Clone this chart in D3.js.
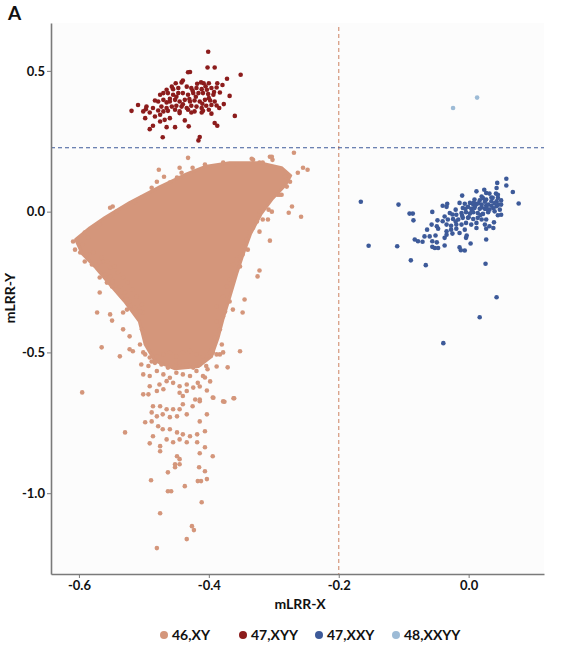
<!DOCTYPE html>
<html>
<head>
<meta charset="utf-8">
<script src="https://cdn.jsdelivr.net/npm/d3@7"></script>
<style>
  body { margin: 0; background: #fff; }
  svg { display: block; font-family: Lato, "Open Sans", sans-serif; }
</style>
</head>
<body>
<svg id="chart"></svg>
<script>
// group names and colours
const groups = ["46,XY", "47,XYY", "47,XXY", "48,XXYY"];
const groupColors = ["#d4967b", "#8c1c1c", "#3d5a99", "#9dbbd6"];

const xTicks = [-0.6, -0.4, -0.2, 0.0];
const yTicks = [0.5, 0.0, -0.5, -1.0];

// cut-off lines
const cutX = -0.2;
const cutY = 0.227;

// 46,XY : outline of the solid (overplotted) core, then the visible single points
const xyCore = [
  [-0.605,-0.099],[-0.583,-0.057],[-0.560,-0.021],[-0.522,0.032],[-0.475,0.089],[-0.437,0.131],
  [-0.406,0.160],[-0.368,0.174],[-0.322,0.174],[-0.288,0.156],[-0.274,0.128],[-0.282,0.095],
  [-0.302,0.046],[-0.320,-0.010],[-0.336,-0.080],[-0.347,-0.150],[-0.357,-0.220],[-0.368,-0.305],
  [-0.378,-0.380],[-0.386,-0.450],[-0.396,-0.515],[-0.416,-0.550],[-0.452,-0.558],[-0.483,-0.530],
  [-0.498,-0.472],[-0.507,-0.390],[-0.530,-0.318],[-0.553,-0.257],[-0.574,-0.199],[-0.595,-0.149]
];
const xyPoints = [
  // upper edge
  [-0.432,0.191],[-0.477,0.149],[-0.469,0.124],[-0.445,0.156],[-0.442,0.138],[-0.425,0.156],
  [-0.406,0.167],[-0.378,0.174],[-0.357,0.167],[-0.334,0.188],[-0.332,0.184],[-0.322,0.174],
  [-0.317,0.174],[-0.306,0.195],[-0.303,0.195],[-0.302,0.184],[-0.269,0.209],[-0.480,0.106],
  [-0.488,0.085],[-0.503,0.050],[-0.494,0.050],[-0.514,0.032],[-0.529,0.014],[-0.548,0.018],
  [-0.552,0.014],[-0.542,0.000],[-0.549,-0.011],[-0.568,-0.046],[-0.572,-0.057],[-0.591,-0.074],
  [-0.586,-0.092],[-0.609,-0.106],[-0.594,-0.117],[-0.606,-0.135],[-0.598,-0.145],[-0.588,-0.152],
  [-0.578,-0.145],[-0.563,-0.177],[-0.460,0.103],[-0.449,0.121],
  // right edge
  [-0.263,0.138],[-0.248,0.149],[-0.255,0.156],[-0.283,0.124],[-0.275,0.106],[-0.280,0.089],
  [-0.294,0.060],[-0.288,0.060],[-0.291,0.060],[-0.308,0.007],[-0.303,0.000],[-0.272,0.018],
  [-0.277,-0.004],[-0.258,-0.018],[-0.322,0.000],[-0.317,-0.028],[-0.309,-0.028],[-0.326,-0.035],
  [-0.332,-0.057],[-0.322,-0.071],[-0.337,-0.074],[-0.306,-0.103],[-0.342,-0.099],[-0.348,-0.124],
  [-0.340,-0.135],[-0.352,-0.160],[-0.357,-0.170],[-0.348,-0.152],[-0.363,-0.188],[-0.352,-0.195],
  [-0.322,-0.209],[-0.325,-0.230],[-0.360,-0.223],[-0.368,-0.241],[-0.372,-0.266],[-0.378,-0.301],
  [-0.368,-0.319],[-0.388,-0.337],[-0.345,-0.312],[-0.348,-0.358],[-0.363,-0.348],[-0.375,-0.355],
  [-0.378,-0.372],[-0.388,-0.390],[-0.383,-0.418],[-0.391,-0.447],[-0.380,-0.472],[-0.395,-0.489],
  // left edge of the lower lobe
  [-0.565,-0.163],[-0.557,-0.177],[-0.572,-0.188],[-0.552,-0.199],[-0.545,-0.195],[-0.560,-0.223],
  [-0.540,-0.216],[-0.532,-0.234],[-0.548,-0.248],[-0.525,-0.252],[-0.537,-0.266],[-0.518,-0.277],
  [-0.529,-0.287],[-0.511,-0.301],[-0.522,-0.319],[-0.503,-0.330],[-0.514,-0.340],[-0.502,-0.358],
  [-0.526,-0.348],[-0.503,-0.418],[-0.506,-0.472],[-0.498,-0.507],[-0.488,-0.532],
  [-0.591,-0.177],[-0.580,-0.188],[-0.568,-0.181],[-0.552,-0.230],[-0.568,-0.234],[-0.557,-0.252],
  [-0.549,-0.266],[-0.542,-0.277],[-0.568,-0.287],[-0.534,-0.301],[-0.526,-0.312],[-0.532,-0.358],
  [-0.506,-0.355],
  // tail
  [-0.572,-0.358],[-0.552,-0.365],[-0.549,-0.387],[-0.532,-0.418],[-0.522,-0.443],[-0.565,-0.482],
  [-0.537,-0.514],[-0.522,-0.489],[-0.517,-0.496],[-0.378,-0.500],[-0.352,-0.496],[-0.371,-0.553],
  [-0.394,-0.500],[-0.383,-0.507],[-0.388,-0.550],[-0.402,-0.560],[-0.398,-0.603],[-0.406,-0.589],
  [-0.414,-0.621],[-0.403,-0.635],[-0.394,-0.660],[-0.378,-0.674],[-0.362,-0.663],[-0.414,-0.667],
  [-0.425,-0.691],[-0.440,-0.684],[-0.445,-0.702],[-0.455,-0.702],[-0.465,-0.702],[-0.475,-0.691],
  [-0.486,-0.691],[-0.488,-0.713],[-0.480,-0.727],[-0.471,-0.720],[-0.460,-0.730],[-0.449,-0.727],
  [-0.434,-0.720],[-0.403,-0.720],[-0.414,-0.745],[-0.498,-0.748],[-0.488,-0.745],[-0.478,-0.762],
  [-0.471,-0.773],[-0.460,-0.773],[-0.449,-0.784],[-0.440,-0.791],[-0.429,-0.798],[-0.418,-0.791],
  [-0.406,-0.780],[-0.529,-0.784],[-0.486,-0.798],[-0.465,-0.809],[-0.455,-0.819],[-0.445,-0.809],
  [-0.434,-0.819],[-0.418,-0.819],[-0.491,-0.823],[-0.475,-0.833],[-0.449,-0.869],[-0.445,-0.879],
  [-0.475,-0.851],[-0.414,-0.858],[-0.406,-0.837],[-0.394,-0.869],[-0.452,-0.897],[-0.445,-0.897],
  [-0.463,-0.926],[-0.452,-0.908],[-0.415,-0.908],[-0.406,-0.922],[-0.489,-0.954],[-0.417,-0.957],
  [-0.412,-0.957],[-0.403,-0.950],[-0.437,-0.975],[-0.463,-0.993],[-0.458,-0.993],[-0.411,-1.032],
  [-0.475,-1.071],[-0.426,-1.117],[-0.423,-1.131],[-0.434,-1.163],[-0.480,-1.195],[-0.595,-0.642],
  [-0.501,-0.500],[-0.491,-0.518],[-0.480,-0.514],[-0.470,-0.507],[-0.460,-0.500],[-0.450,-0.514],
  [-0.440,-0.500],[-0.429,-0.495],[-0.419,-0.507],[-0.409,-0.514],[-0.398,-0.500],[-0.388,-0.507],
  [-0.504,-0.543],[-0.493,-0.548],[-0.483,-0.537],[-0.473,-0.543],[-0.463,-0.554],[-0.452,-0.548],
  [-0.445,-0.537],[-0.434,-0.543],[-0.424,-0.554],[-0.414,-0.543],[-0.404,-0.548],
  [-0.501,-0.578],[-0.491,-0.584],[-0.480,-0.566],[-0.470,-0.578],[-0.460,-0.590],[-0.450,-0.572],
  [-0.440,-0.578],[-0.429,-0.584],[-0.419,-0.566],[-0.409,-0.584],
  [-0.491,-0.620],[-0.476,-0.614],[-0.465,-0.602],[-0.455,-0.608],[-0.445,-0.620],[-0.434,-0.614],
  [-0.424,-0.625],[-0.417,-0.608],
  [-0.501,-0.649],[-0.493,-0.649],[-0.480,-0.637],[-0.470,-0.631],[-0.445,-0.643],[-0.440,-0.655],
  [-0.434,-0.637],[-0.421,-0.667],[-0.414,-0.673],[-0.393,-0.661],[-0.376,-0.675],[-0.361,-0.663]
];

// 47,XYY
const xyyPoints = [
  [-0.401,0.568],[-0.402,0.512],[-0.391,0.512],[-0.432,0.495],[-0.429,0.496],[-0.351,0.486],
  [-0.372,0.472],[-0.440,0.466],[-0.442,0.459],[-0.451,0.456],[-0.418,0.454],[-0.412,0.459],
  [-0.408,0.456],[-0.400,0.456],[-0.387,0.456],[-0.379,0.450],[-0.457,0.444],[-0.455,0.435],
  [-0.465,0.433],[-0.447,0.439],[-0.434,0.444],[-0.427,0.439],[-0.419,0.439],[-0.411,0.435],
  [-0.403,0.433],[-0.396,0.439],[-0.388,0.441],[-0.475,0.415],[-0.470,0.421],[-0.463,0.421],
  [-0.455,0.415],[-0.447,0.421],[-0.440,0.421],[-0.432,0.415],[-0.424,0.421],[-0.416,0.421],
  [-0.409,0.421],[-0.401,0.418],[-0.393,0.415],[-0.383,0.423],[-0.368,0.411],[-0.483,0.395],
  [-0.478,0.391],[-0.470,0.397],[-0.465,0.388],[-0.460,0.391],[-0.452,0.397],[-0.445,0.391],
  [-0.437,0.397],[-0.429,0.391],[-0.422,0.395],[-0.414,0.391],[-0.406,0.397],[-0.398,0.395],
  [-0.391,0.391],[-0.509,0.379],[-0.496,0.373],[-0.486,0.368],[-0.473,0.373],[-0.465,0.368],
  [-0.457,0.373],[-0.450,0.376],[-0.442,0.373],[-0.434,0.368],[-0.427,0.376],[-0.419,0.373],
  [-0.411,0.368],[-0.404,0.376],[-0.396,0.379],[-0.388,0.377],[-0.377,0.382],[-0.519,0.358],
  [-0.501,0.356],[-0.497,0.364],[-0.491,0.352],[-0.478,0.359],[-0.470,0.356],[-0.463,0.358],
  [-0.452,0.362],[-0.445,0.356],[-0.432,0.362],[-0.422,0.356],[-0.409,0.358],[-0.400,0.362],
  [-0.384,0.368],[-0.498,0.332],[-0.483,0.338],[-0.475,0.344],[-0.468,0.326],[-0.460,0.332],
  [-0.445,0.350],[-0.437,0.324],[-0.427,0.352],[-0.411,0.352],[-0.396,0.348],[-0.360,0.340],
  [-0.486,0.305],[-0.475,0.320],[-0.465,0.300],[-0.452,0.300],[-0.431,0.303],[-0.391,0.315],
  [-0.387,0.305],[-0.491,0.293],[-0.471,0.264],[-0.414,0.265],[-0.416,0.253],
  [-0.430,0.400],[-0.420,0.408],[-0.410,0.383],[-0.440,0.381],[-0.450,0.408],[-0.400,0.403],
  [-0.392,0.425],[-0.460,0.401],[-0.425,0.430],[-0.405,0.445]
];

// 47,XXY
const xxyPoints = [
  [0.058,0.117],[0.044,0.102],[0.058,0.093],[0.068,0.070],[0.077,0.029],[0.043,0.084],
  [0.024,0.078],[0.012,0.072],[0.027,0.066],[0.032,0.064],[0.042,0.064],[-0.010,0.057],
  [0.020,0.054],[0.037,0.049],[0.045,0.049],[0.009,0.043],[0.017,0.040],[0.027,0.043],
  [0.035,0.037],[0.043,0.037],[0.050,0.040],[-0.040,0.021],[-0.033,0.028],[-0.014,0.031],
  [-0.006,0.028],[0.002,0.031],[0.007,0.025],[0.012,0.027],[0.020,0.025],[0.027,0.022],
  [0.035,0.021],[0.043,0.019],[0.046,0.025],[-0.034,0.017],[-0.020,0.007],[-0.009,0.013],
  [-0.001,0.017],[0.004,0.010],[0.009,0.013],[0.017,0.010],[0.025,0.010],[0.032,0.007],
  [0.040,0.001],[0.048,0.007],[-0.056,-0.001],[-0.037,-0.017],[-0.029,-0.005],[-0.019,-0.011],
  [-0.011,-0.005],[-0.004,-0.002],[0.002,-0.007],[0.007,-0.002],[0.014,-0.005],[0.022,-0.008],
  [0.030,-0.002],[0.045,-0.013],[0.050,-0.011],[-0.048,-0.031],[-0.040,-0.034],[-0.032,-0.028],
  [-0.024,-0.026],[-0.016,-0.028],[-0.009,-0.022],[-0.001,-0.022],[0.007,-0.026],[0.014,-0.022],
  [0.020,-0.028],[0.027,-0.028],[0.039,-0.038],[-0.057,-0.046],[-0.049,-0.052],[-0.034,-0.046],
  [-0.027,-0.050],[-0.019,-0.046],[-0.011,-0.046],[-0.004,-0.040],[0.004,-0.046],[0.012,-0.040],
  [0.025,-0.046],[0.032,-0.052],[-0.064,-0.064],[-0.047,-0.061],[-0.034,-0.070],[-0.027,-0.064],
  [-0.019,-0.061],[-0.006,-0.064],[0.012,-0.058],[0.027,-0.061],[0.038,-0.058],[-0.068,-0.088],
  [-0.060,-0.088],[-0.051,-0.085],[-0.034,-0.082],[-0.025,-0.078],[-0.014,-0.076],[-0.003,-0.085],
  [-0.083,-0.099],[-0.078,-0.105],[-0.071,-0.107],[-0.056,-0.105],[-0.049,-0.109],[-0.037,-0.093],
  [-0.004,-0.093],[0.027,-0.099],[0.003,-0.113],[-0.056,-0.125],[-0.052,-0.129],[-0.047,-0.129],
  [-0.037,-0.120],[-0.014,-0.127],[-0.012,-0.137],[-0.006,-0.138],[-0.166,0.035],[-0.108,0.025],
  [-0.091,-0.007],[-0.086,-0.007],[-0.085,-0.031],[-0.154,-0.121],[-0.110,-0.123],[-0.089,-0.173],
  [-0.066,-0.190],[0.026,-0.185],[0.043,-0.304],[0.017,-0.375],[-0.039,-0.467],
  [0.010,0.020],[0.015,0.030],[0.020,0.015],[0.025,0.035],[0.030,0.025],[0.035,0.050],
  [0.040,0.030],[0.005,0.000],[-0.005,0.010],[0.018,-0.012],[0.028,0.010],[0.045,0.060],
  [0.038,0.012],[-0.020,-0.035],[-0.010,-0.015],[0.000,-0.020],[0.050,0.025],[0.022,0.048],
  [0.008,0.032],[-0.025,-0.010]
];

// 48,XXYY
const xxyyPoints = [[-0.024,0.368],[0.013,0.405]];

const width = 568, height = 651;
const margin = { left: 51, right: 24, top: 23, bottom: 77 };

const svg = d3.select("#chart").attr("width", width).attr("height", height);

const x = d3.scaleLinear().domain([-0.643, 0.116]).range([margin.left, width - margin.right]);
const y = d3.scaleLinear().domain([0.67, -1.287]).range([margin.top, height - margin.bottom]);

// panel
svg.append("rect")
  .attr("x", x.range()[0]).attr("y", y.range()[0])
  .attr("width", x.range()[1] - x.range()[0])
  .attr("height", y.range()[1] - y.range()[0])
  .attr("fill", "#fcfcfc");

// cut-off lines
svg.append("line")
  .attr("x1", x(cutX)).attr("x2", x(cutX))
  .attr("y1", y.range()[0] + 4).attr("y2", y.range()[1])
  .attr("stroke", groupColors[0]).attr("stroke-width", 1.2)
  .attr("stroke-dasharray", "4,3");

svg.append("line")
  .attr("x1", x.range()[0]).attr("x2", x.range()[1])
  .attr("y1", y(cutY)).attr("y2", y(cutY))
  .attr("stroke", groupColors[2]).attr("stroke-width", 1.2)
  .attr("stroke-dasharray", "4,3");

// dense core of 46,XY
const coreLine = d3.line()
  .x(d => x(d[0])).y(d => y(d[1]))
  .curve(d3.curveLinearClosed);

svg.append("path")
  .attr("d", coreLine(xyCore))
  .attr("fill", groupColors[0])
  .attr("stroke", groupColors[0])
  .attr("stroke-width", 3)
  .attr("stroke-linejoin", "round");

const r = 2.3;
const sets = [xyPoints, xyyPoints, xxyPoints, xxyyPoints];
sets.forEach((pts, i) => {
  svg.append("g")
    .selectAll("circle")
    .data(pts)
    .enter()
    .append("circle")
    .attr("cx", d => x(d[0]))
    .attr("cy", d => y(d[1]))
    .attr("r", r)
    .attr("fill", groupColors[i]);
});

// axes
const fmt = d => d.toFixed(1);

const xAxis = svg.append("g")
  .attr("transform", "translate(0," + y.range()[1] + ")")
  .call(d3.axisBottom(x).tickValues(xTicks).tickFormat(fmt).tickSize(4).tickSizeOuter(0).tickPadding(3));

const yAxis = svg.append("g")
  .attr("transform", "translate(" + x.range()[0] + ",0)")
  .call(d3.axisLeft(y).tickValues(yTicks).tickFormat(fmt).tickSize(4).tickSizeOuter(0).tickPadding(2));

[xAxis, yAxis].forEach(a => {
  a.select(".domain").attr("stroke", "#7a7a7a").attr("stroke-width", 1.6);
  a.selectAll(".tick line").attr("stroke", "#7a7a7a").attr("stroke-width", 1);
  a.selectAll(".tick text")
    .attr("fill", "#111")
    .style("font-family", "Lato, 'Open Sans', sans-serif")
    .style("font-weight", "bold")
    .style("font-size", "13px");
});

// titles
svg.append("text")
  .attr("x", 300)
  .attr("y", 609)
  .attr("text-anchor", "middle")
  .style("font-weight", "bold").style("font-size", "14px")
  .attr("fill", "#111")
  .text("mLRR-X");

svg.append("text")
  .attr("transform", "translate(15,298) rotate(-90)")
  .attr("text-anchor", "middle")
  .style("font-weight", "bold").style("font-size", "14px")
  .attr("fill", "#111")
  .text("mLRR-Y");

svg.append("text")
  .attr("x", 8).attr("y", 20)
  .style("font-weight", "bold").style("font-size", "19px")
  .attr("fill", "#111")
  .text("A");

// legend
const legendX = [164, 243, 319, 396];
const legend = svg.append("g").attr("transform", "translate(0,635)");
groups.forEach((g, i) => {
  legend.append("circle")
    .attr("cx", legendX[i]).attr("cy", 0).attr("r", 4)
    .attr("fill", groupColors[i]);
  legend.append("text")
    .attr("x", legendX[i] + 8).attr("y", 5)
    .style("font-weight", "bold").style("font-size", "14px")
    .attr("fill", "#111")
    .text(g);
});
</script>
</body>
</html>
